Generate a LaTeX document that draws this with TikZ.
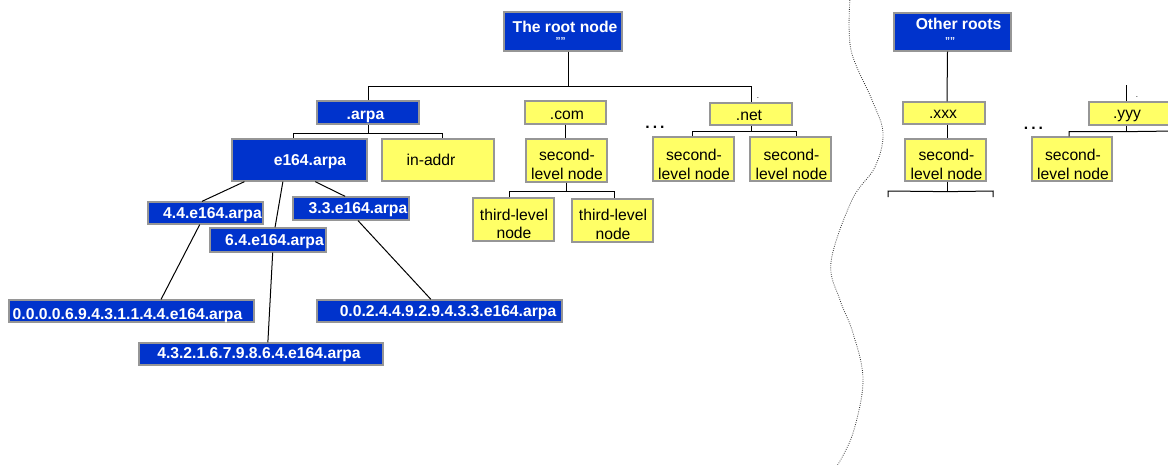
\documentclass[tikz,border=0pt]{standalone}
\usepackage{fontspec}
\setmainfont{Liberation Sans}
\usetikzlibrary{calc}
\definecolor{dnsblue}{RGB}{0,51,204}
\definecolor{dnsyellow}{RGB}{255,255,102}
\definecolor{edgegray}{RGB}{150,150,150}

\begin{document}
\begin{tikzpicture}[x=1pt,y=-1pt,
  box/.style={draw=edgegray, line width=1.3pt, inner sep=0pt, rectangle},
  bluebox/.style={box, fill=dnsblue},
  yelbox/.style={box, fill=dnsyellow},
  btxt/.style={text=white, font=\fontsize{15.7}{18}\selectfont\bfseries, inner sep=0pt, anchor=base},
  qtxt/.style={text=white, font=\fontsize{10}{11}\selectfont\bfseries, inner sep=0pt, anchor=base},
  ytxt/.style={text=black, font=\fontsize{15.7}{18.5}\selectfont, inner sep=0pt, anchor=base, align=center},
  dots/.style={text=black, font=\fontsize{15.7}{18}\selectfont\bfseries, inner sep=0pt, anchor=base},
  tick/.style={text=black, font=\fontsize{8}{9}\selectfont, inner sep=0pt, anchor=base},
  link/.style={line width=1pt, black},
]
\useasboundingbox[fill=white] (0,0) rectangle (1168,464);

% ---- boxes of the main tree
\node[bluebox, minimum width=118pt, minimum height=39pt] (root) at (563,31.5) {};
\node[bluebox, minimum width=102pt, minimum height=23pt] (arpa) at (368,112.5) {};
\node[yelbox, minimum width=81pt, minimum height=23pt] (com) at (565.5,112.5) {};
\node[yelbox, minimum width=82pt, minimum height=22pt] (net) at (751,114) {};
\node[bluebox, minimum width=135pt, minimum height=42pt] (e164) at (299.5,160) {};
\node[yelbox, minimum width=112pt, minimum height=42pt] (inaddr) at (438,160) {};
\node[yelbox, minimum width=81pt, minimum height=43pt] (comsl) at (566.5,160.5) {};
\node[yelbox, minimum width=81pt, minimum height=43pt] (tlA) at (513.5,219.5) {};
\node[yelbox, minimum width=81pt, minimum height=43pt] (tlB) at (612.5,220.5) {};
\node[yelbox, minimum width=81pt, minimum height=44pt] (netslA) at (693.5,159) {};
\node[yelbox, minimum width=81pt, minimum height=44pt] (netslB) at (790.5,159) {};
\node[bluebox, minimum width=115pt, minimum height=22pt] (d44) at (205.5,213) {};
\node[bluebox, minimum width=116pt, minimum height=23pt] (d33) at (351,208.5) {};
\node[bluebox, minimum width=116pt, minimum height=24pt] (d64) at (268,240) {};
\node[bluebox, minimum width=245pt, minimum height=22pt] (nA) at (131.5,311) {};
\node[bluebox, minimum width=244pt, minimum height=22pt] (nB) at (261,354) {};
\node[bluebox, minimum width=245pt, minimum height=22pt] (nC) at (439.5,311) {};

% ---- boxes of the other roots
\node[bluebox, minimum width=117pt, minimum height=38pt] (other) at (952.5,32) {};
\node[yelbox, minimum width=82pt, minimum height=22pt] (xxx) at (944,113) {};
\node[yelbox, minimum width=81pt, minimum height=42pt] (xxxsl) at (945.5,160) {};
\node[yelbox, minimum width=81pt, minimum height=23pt] (yyy) at (1129.5,113.5) {};
\node[yelbox, minimum width=80pt, minimum height=44pt] (yyysl) at (1072,159) {};

% ---- labels (two-line labels are placed by the baseline of their last line)
\node[btxt] (t-root) at (565,32.3) {The root node};
\node[qtxt] (q-root) at (560.5,44) {""};
\node[btxt] (t-other) at (958.5,29) {Other roots};
\node[qtxt] (q-other) at (950,44) {""};
\node[btxt] (t-arpa) at (365.5,119) {.arpa};
\node[btxt] (t-e164) at (310,165) {e164.arpa};
\node[btxt] (t-d44) at (212.5,218) {4.4.e164.arpa};
\node[btxt] (t-d33) at (358,213.3) {3.3.e164.arpa};
\node[btxt] (t-d64) at (274.5,245) {6.4.e164.arpa};
\node[btxt] (t-nA) at (127.5,319) {0.0.0.0.6.9.4.3.1.1.4.4.e164.arpa};
\node[btxt] (t-nB) at (259,358.3) {4.3.2.1.6.7.9.8.6.4.e164.arpa};
\node[btxt] (t-nC) at (448,316.7) {0.0.2.4.4.9.2.9.4.3.3.e164.arpa};

\node[ytxt] (t-com) at (567,119) {.com};
\node[ytxt] (t-net) at (749,120) {.net};
\node[ytxt] (t-inaddr) at (431,165) {in-addr};
\node[ytxt] (t-comsl) at (567,179.3) {second-\\level node};
\node[ytxt] (t-tlA) at (514,238.5) {third-level\\node};
\node[ytxt] (t-tlB) at (613,239.3) {third-level\\node};
\node[ytxt] (t-netslA) at (694,179) {second-\\level node};
\node[ytxt] (t-netslB) at (791.5,179) {second-\\level node};
\node[ytxt] (t-xxx) at (943,118.3) {.xxx};
\node[ytxt] (t-xxxsl) at (946.5,179.3) {second-\\level node};
\node[ytxt] (t-yyy) at (1127,118.5) {.yyy};
\node[ytxt] (t-yyysl) at (1073,179) {second-\\level node};

\node[dots] (dotsA) at (655,128) {.\kern3pt.\kern3pt.};
\node[dots] (dotsB) at (1033.5,129) {.\kern3pt.\kern3pt.};
\node[tick] (pA) at (758,98) {.};
\node[tick] (pB) at (1137,97) {.};

% ---- connectors, main tree
\draw[link] ([xshift=5pt]root.south) -- ++(0,35) coordinate (rj);
\draw[link] (arpa.north) |- (rj) -| (net.north);
\draw[link] (arpa.south) -- ++(0,9) coordinate (aj);
\draw[link] ([xshift=-6pt]e164.north) |- (aj) -| ([xshift=4pt]inaddr.north);
\draw[link] (com.south) -- (com.south |- comsl.north);
\draw[link] (comsl.south) -- ++(0,9) coordinate (cj);
\draw[link] ([xshift=-4pt]tlA.north) |- (cj) -| ([xshift=2pt]tlB.north);
\draw[link] (net.south) -- ++(0,6) coordinate (nj);
\draw[link] ([xshift=-1pt]netslA.north) |- (nj) -| ([xshift=6pt]netslB.north);

\draw[link] ($(e164.south west)!0.096!(e164.south east)$) -- ($(d44.north west)!0.47!(d44.north east)$);
\draw[link] ($(e164.south west)!0.378!(e164.south east)$) -- ($(d64.north west)!0.56!(d64.north east)$);
\draw[link] ($(e164.south west)!0.615!(e164.south east)$) -- ($(d33.north west)!0.45!(d33.north east)$);
\draw[link] ($(d44.south west)!0.45!(d44.south east)$) -- ($(nA.north west)!0.62!(nA.north east)$);
\draw[link] ($(d64.south west)!0.54!(d64.south east)$) -- ($(nB.north west)!0.528!(nB.north east)$);
\draw[link] ($(d33.south west)!0.56!(d33.south east)$) -- ($(nC.north west)!0.465!(nC.north east)$);

% ---- connectors, other roots
\draw[link] ([xshift=-5pt]other.south) -- ([xshift=3pt]xxx.north);
\draw[link] ([xshift=3pt]xxx.south) -- ([xshift=1.5pt]xxxsl.north);
\draw[link] ([xshift=1.5pt]xxxsl.south) -- ++(0,10) coordinate (xj);
\draw[link] (xj) -- (888,191) coordinate (xl) -- ++(0,6);
\draw[link] (xj) -- (993,191) coordinate (xr) -- ++(0,6);
\draw[link] ([xshift=-3.5pt]yyy.north) -- ++(0,-16);
\draw[link] ([xshift=-3.5pt]yyy.south) -- ++(0,6) coordinate (yj);
\draw[link] ([xshift=-3pt]yyysl.north) |- (yj) -- (1175,131);

% ---- dotted boundary between the two name spaces
\draw[line width=0.8pt, dash pattern=on 0.8pt off 1.4pt, black!80]
  plot[smooth, tension=0.6] coordinates {(850,-2) (851,50) (872,100) (883,133) (875,167)
  (852,200) (831,262) (840,300) (853,333) (863,380) (853,433) (837,466)};
\end{tikzpicture}
\end{document}
